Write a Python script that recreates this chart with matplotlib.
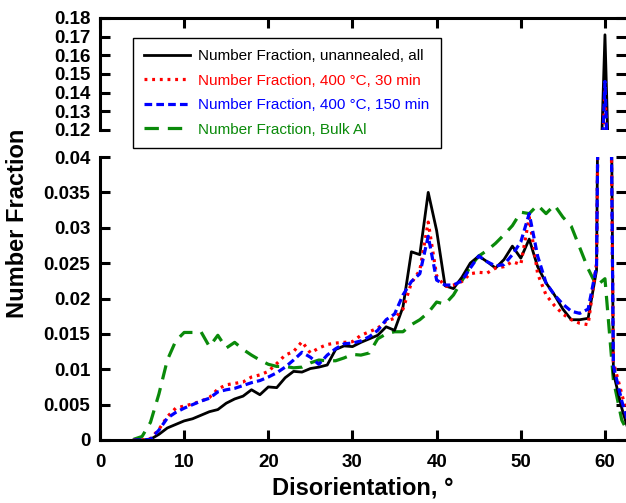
import numpy as np
import matplotlib
matplotlib.use("Agg")
import matplotlib.pyplot as plt
from matplotlib.ticker import MultipleLocator, FuncFormatter

plt.rcParams['font.family'] = ['Liberation Sans', 'DejaVu Sans']

# disorientation angle (deg)
angle = list(range(4, 64))

unannealed = [0, 0, 0.0001, 0.0008, 0.0017, 0.0022, 0.0027, 0.0030, 0.0035, 0.0040,
              0.0043, 0.0052, 0.0058, 0.0062, 0.0071, 0.0064, 0.0075, 0.0074, 0.0088, 0.0097,
              0.0096, 0.0101, 0.0103, 0.0106, 0.0128, 0.0133, 0.0132, 0.0138, 0.0143, 0.0148,
              0.0160, 0.0155, 0.0188, 0.0266, 0.0262, 0.0350, 0.0296, 0.0218, 0.0214, 0.0230,
              0.0250, 0.0260, 0.0252, 0.0243, 0.0255, 0.0274, 0.0257, 0.0284, 0.0245, 0.0222,
              0.0205, 0.0185, 0.0170, 0.0170, 0.0172, 0.0240, 0.1710, 0.0095, 0.0045, 0.0005]

ann_30 = [0, 0, 0.0002, 0.0015, 0.0033, 0.0045, 0.0048, 0.0051, 0.0055, 0.0060,
          0.0072, 0.0078, 0.0080, 0.0082, 0.0089, 0.0092, 0.0097, 0.0108, 0.0120, 0.0125,
          0.0139, 0.0123, 0.0130, 0.0135, 0.0137, 0.0138, 0.0139, 0.0148, 0.0153, 0.0158,
          0.0168, 0.0172, 0.0185, 0.0222, 0.0240, 0.0308, 0.0232, 0.0217, 0.0219, 0.0224,
          0.0235, 0.0237, 0.0236, 0.0243, 0.0245, 0.0252, 0.0248, 0.0315, 0.0235, 0.0205,
          0.0190, 0.0178, 0.0170, 0.0165, 0.0163, 0.0250, 0.1420, 0.0110, 0.0065, 0.0020]

ann_150 = [0, 0, 0.0001, 0.0014, 0.0031, 0.0039, 0.0045, 0.0050, 0.0055, 0.0059,
           0.0068, 0.0071, 0.0073, 0.0077, 0.0081, 0.0084, 0.0089, 0.0095, 0.0103, 0.0113,
           0.0124, 0.0117, 0.0107, 0.0120, 0.0129, 0.0136, 0.0137, 0.0140, 0.0146, 0.0155,
           0.0170, 0.0178, 0.0205, 0.0224, 0.0235, 0.0288, 0.0226, 0.0219, 0.0219, 0.0225,
           0.0243, 0.0260, 0.0252, 0.0246, 0.0248, 0.0262, 0.0280, 0.0320, 0.0260, 0.0222,
           0.0205, 0.0192, 0.0182, 0.0179, 0.0185, 0.0245, 0.1460, 0.0105, 0.0055, 0.0015]

bulk = [0.0001, 0.0005, 0.0025, 0.0065, 0.0113, 0.0140, 0.0152, 0.0152, 0.0153, 0.0132,
        0.0148, 0.0130, 0.0138, 0.0128, 0.0120, 0.0113, 0.0107, 0.0104, 0.0104, 0.0102,
        0.0103, 0.0109, 0.0113, 0.0112, 0.0112, 0.0116, 0.0121, 0.0120, 0.0123, 0.0143,
        0.0150, 0.0153, 0.0153, 0.0163, 0.0170, 0.0180, 0.0195, 0.0192, 0.0205, 0.0225,
        0.0245, 0.0260, 0.0268, 0.0278, 0.0290, 0.0303, 0.0322, 0.0320, 0.0332, 0.0320,
        0.0332, 0.0315, 0.0302, 0.0272, 0.0242, 0.0218, 0.0228, 0.0085, 0.0028, 0.0005]

labels = ["Number Fraction, unannealed, all",
          "Number Fraction, 400 \u00b0C, 30 min",
          "Number Fraction, 400 \u00b0C, 150 min",
          "Number Fraction, Bulk Al"]
colors = ["black", "#ff0000", "#0000ff", "#0a8a0a"]
styles = ["-", (0, (0.9, 1.5)), (0, (2.4, 1.3)), (0, (4.5, 2.8))]
series = [unannealed, ann_30, ann_150, bulk]

fig = plt.figure(figsize=(6.26, 5.03), dpi=100)
W, H = 626, 503
ax_lo = fig.add_axes([100 / W, (H - 440) / H, 526 / W, 283 / H])
ax_hi = fig.add_axes([100 / W, (H - 130) / H, 526 / W, 112 / H])

order = [3, 0, 1, 2]  # green underneath
handles = {}
for ax in (ax_lo, ax_hi):
    for i in order:
        lw = 2.0 if i == 0 else 2.3
        ln, = ax.plot(angle, series[i], color=colors[i], linestyle=styles[i], lw=lw,
                      label=labels[i])
        handles[i] = ln
    ax.set_xlim(0, 62.5)
    ax.xaxis.set_major_locator(MultipleLocator(10))
    ax.spines['right'].set_visible(False)
    for s in ax.spines.values():
        s.set_linewidth(2.2)
    ax.tick_params(direction='in', length=7, width=2.2, right=True,
                   labelsize=13.5, pad=7)

ax_lo.set_ylim(0, 0.04)
ax_lo.yaxis.set_major_locator(MultipleLocator(0.005))
ax_lo.yaxis.set_major_formatter(FuncFormatter(lambda v, p: f"{v:g}"))
ax_lo.spines['top'].set_visible(False)
ax_lo.tick_params(top=False)
ax_lo.tick_params(axis='x', pad=10)

ax_hi.set_ylim(0.12, 0.18)
ax_hi.yaxis.set_major_locator(MultipleLocator(0.01))
ax_hi.yaxis.set_major_formatter(FuncFormatter(lambda v, p: f"{v:.2f}"))
ax_hi.spines['bottom'].set_visible(False)
ax_hi.tick_params(top=True, bottom=False, labelbottom=False)

for ax in (ax_lo, ax_hi):
    for t in ax.get_xticklabels() + ax.get_yticklabels():
        t.set_fontweight('bold')

fig.text(18 / W, 1 - 223 / H, "Number Fraction", rotation=90, ha='center', va='center',
         fontsize=17, fontweight='bold')
fig.text(363 / W, 1 - 488 / H, "Disorientation, \u00b0", ha='center', va='center',
         fontsize=17, fontweight='bold')

leg = fig.legend([handles[i] for i in range(4)], labels, loc='upper left',
                 bbox_to_anchor=(133 / W, 1 - 38 / H), borderaxespad=0, fontsize=11,
                 frameon=True, fancybox=False, edgecolor='black', framealpha=1,
                 handlelength=3.0, handletextpad=0.5, labelspacing=0.68, borderpad=0.75)
leg.get_frame().set_linewidth(1.0)
for t, c in zip(leg.get_texts(), colors):
    t.set_color(c)

fig.savefig("out.png", dpi=100)
